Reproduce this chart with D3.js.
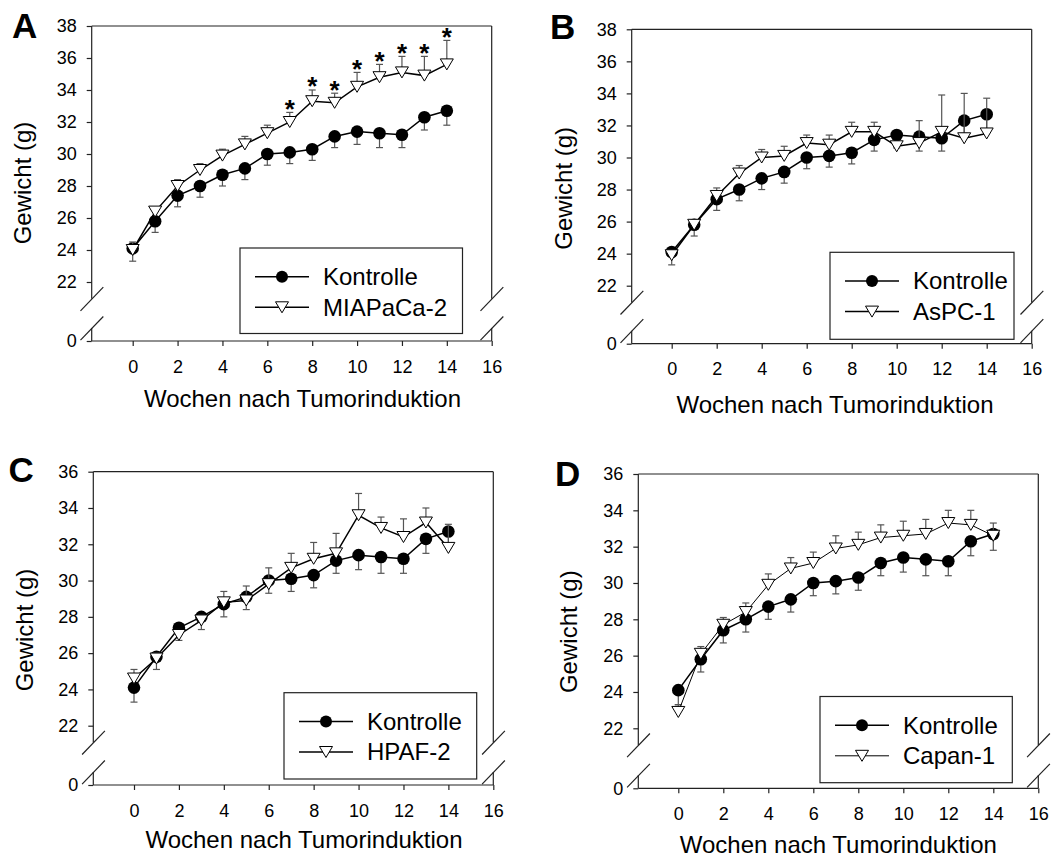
<!DOCTYPE html>
<html><head><meta charset="utf-8">
<script src="https://cdn.jsdelivr.net/npm/d3@7"></script>
<style>
body{margin:0;background:#fff}
svg{display:block}
text{font-family:"Liberation Sans",Arial,Helvetica,sans-serif;fill:#000}
</style>
</head><body>
<svg id="chart" width="1053" height="860"></svg>
<script>
// ---------- data ----------
const weeks = [0,1,2,3,4,5,6,7,8,9,10,11,12,13,14];
const xTicks = [0,2,4,6,8,10,12,14,16];
const yTicksAB = [0,22,24,26,28,30,32,34,36,38];
const yTicksCD = [0,22,24,26,28,30,32,34,36];
const controlName = "Kontrolle";
const kontrolle    = [24.1,25.8,27.4,28.0,28.7,29.1,30.0,30.1,30.3,31.1,31.4,31.3,31.2,32.3,32.7];
const kontrolleSem = [0.8,0.7,0.7,0.7,0.7,0.7,0.7,0.7,0.7,0.7,0.8,0.9,0.8,0.8,0.9];
const miapaca    = [24.0,26.4,28.0,29.0,29.9,30.6,31.3,32.0,33.3,33.2,34.2,34.8,35.1,34.9,35.6];
const miapacaSem = [0.5,0.3,0.4,0.4,0.4,0.5,0.5,0.6,0.7,0.6,0.9,0.8,1.0,1.2,1.5];
const aspc    = [23.9,25.8,27.6,29.0,30.0,30.1,30.9,30.8,31.6,31.6,30.7,30.9,31.6,31.2,31.5];
const aspcSem = [0.3,0.2,0.5,0.5,0.5,0.6,0.5,0.6,0.6,0.6,0.3,1.4,2.3,2.8,2.2];
const hpaf    = [24.6,25.7,27.0,27.8,28.8,28.9,29.8,30.7,31.2,31.5,33.6,32.9,32.4,33.2,31.8];
const hpafSem = [0.5,0.3,0.3,0.3,0.6,0.8,0.9,0.8,0.9,1.1,1.2,0.6,1.0,0.8,1.3];
const capan    = [22.9,26.1,27.7,28.4,29.9,30.8,31.1,31.9,32.1,32.5,32.6,32.7,33.3,33.2,32.6];
const capanSem = [0.4,0.4,0.4,0.5,0.6,0.6,0.6,0.7,0.7,0.7,0.8,0.8,0.7,0.8,0.7];
const sigWeeksA = [7,8,9,10,11,12,13,14];
const xTitle = "Wochen nach Tumorinduktion";
const yTitle = "Gewicht (g)";

// ---------- layout ----------
const panels = [
  {letter:"A", name:"MIAPaCa-2", vals:miapaca, sem:miapacaSem, sig:sigWeeksA, yMax:38, yTicks:yTicksAB,
   axisX:91.7, x0:132.7, x16:491.7, yTop:26, y22:282, y0:341, lw2:1.5,
   letterPos:[12,38.3], yTitlePos:[31,183], xTitlePos:[302.5,406.7], legend:[240,248,222.5,85.5]},
  {letter:"B", name:"AsPC-1", vals:aspc, sem:aspcSem, sig:[], yMax:38, yTicks:yTicksAB,
   axisX:631.7, x0:671.7, x16:1031.7, yTop:29.3, y22:285.7, y0:343.7, lw2:1.5,
   letterPos:[550,39.3], yTitlePos:[572,188.3], xTitlePos:[835,413], legend:[830,252.3,184,87]},
  {letter:"C", name:"HPAF-2", vals:hpaf, sem:hpafSem, sig:[], yMax:36, yTicks:yTicksCD,
   axisX:93.3, x0:134, x16:493.3, yTop:471.7, y22:725.7, y0:785, lw2:1.5,
   letterPos:[8.5,481.7], yTitlePos:[32.5,630], xTitlePos:[304,848.3], legend:[284,692.7,192.7,86.3]},
  {letter:"D", name:"Capan-1", vals:capan, sem:capanSem, sig:[], yMax:36, yTicks:yTicksCD,
   axisX:638.3, x0:678.3, x16:1038.3, yTop:474, y22:728.3, y0:788.3, lw2:1,
   letterPos:[555,485.7], yTitlePos:[577,631.7], xTitlePos:[838.3,852.5], legend:[820,696.5,192.3,86.2]}
];

const svg = d3.select("#chart");
const axisColor = "#222";
const errColor = "#555";

const triDown = { draw(ctx){ const w=6.5,h=5.5; ctx.moveTo(-w,-h); ctx.lineTo(w,-h); ctx.lineTo(0,h); ctx.closePath(); } };
const triPath = d3.symbol().type(triDown)();

function drawPanel(p){
  const g = svg.append("g");
  const x = d3.scaleLinear().domain([0,16]).range([p.x0,p.x16]);
  const y = d3.scaleLinear().domain([0,22,p.yMax]).range([p.y0,p.y22,p.yTop]);
  const upperEnd = p.y22 + 16.7, lowerStart = p.y0 - 13;

  // frame with breaks
  const fr = g.append("g").attr("stroke",axisColor).attr("stroke-width",1.2).attr("fill","none");
  const segs = [
    [p.axisX,p.yTop,p.axisX,upperEnd],[p.axisX,lowerStart,p.axisX,p.y0],
    [p.x16,p.yTop,p.x16,upperEnd],[p.x16,lowerStart,p.x16,p.y0],
    [p.axisX,p.yTop,p.x16,p.yTop],[p.axisX,p.y0,p.x16,p.y0]
  ];
  segs.forEach(s=>fr.append("line").attr("x1",s[0]).attr("y1",s[1]).attr("x2",s[2]).attr("y2",s[3]));
  [p.axisX,p.x16].forEach(cx=>{
    [upperEnd+0.5,lowerStart+0.5].forEach(cy=>{
      fr.append("line").attr("x1",cx-11.2).attr("y1",cy+11.6).attr("x2",cx+11.6).attr("y2",cy-12);
    });
  });

  // axes
  const ya = g.append("g").attr("transform",`translate(${p.axisX},0)`)
    .call(d3.axisLeft(y).tickValues(p.yTicks).tickSize(5).tickPadding(10).tickFormat(d3.format("d")));
  ya.select(".domain").remove();
  ya.selectAll("line").attr("stroke",axisColor).attr("stroke-width",1.2);
  ya.selectAll("text").style("font-size","18px").attr("fill","#000");
  ya.attr("font-family",null).attr("font-size",null);

  const xa = g.append("g").attr("transform",`translate(0,${p.y0})`)
    .call(d3.axisBottom(x).tickValues(xTicks).tickSize(5).tickPadding(14).tickFormat(d3.format("d")));
  xa.select(".domain").remove();
  xa.selectAll("line").attr("stroke",axisColor).attr("stroke-width",1.2);
  xa.selectAll("text").style("font-size","18px").attr("fill","#000");
  xa.attr("font-family",null).attr("font-size",null);

  // titles
  g.append("text").attr("x",p.xTitlePos[0]).attr("y",p.xTitlePos[1]).attr("text-anchor","middle")
    .style("font-size","24px").text(xTitle);
  g.append("text").attr("transform",`translate(${p.yTitlePos[0]},${p.yTitlePos[1]}) rotate(-90)`)
    .attr("text-anchor","middle").style("font-size","24px").text(yTitle);
  g.append("text").attr("x",p.letterPos[0]).attr("y",p.letterPos[1])
    .style("font-size","35px").style("font-weight","bold").text(p.letter);

  const line = d3.line().x((d,i)=>x(weeks[i])).y(d=>y(d));

  // control series
  const c = g.append("g");
  weeks.forEach((w,i)=>{
    const yv = y(kontrolle[i]), ye = y(kontrolle[i]-kontrolleSem[i]);
    c.append("line").attr("x1",x(w)).attr("x2",x(w)).attr("y1",yv).attr("y2",ye).attr("stroke",errColor).attr("stroke-width",1.2);
    c.append("line").attr("x1",x(w)-3.5).attr("x2",x(w)+3.5).attr("y1",ye).attr("y2",ye).attr("stroke",errColor).attr("stroke-width",1.2);
  });
  c.append("path").datum(kontrolle).attr("d",line).attr("fill","none").attr("stroke","#000").attr("stroke-width",1.5);
  c.selectAll("circle").data(kontrolle).join("circle")
    .attr("cx",(d,i)=>x(weeks[i])).attr("cy",d=>y(d)).attr("r",6.3).attr("fill","#000");

  // cell line series
  const s = g.append("g");
  weeks.forEach((w,i)=>{
    const yv = y(p.vals[i]), ye = y(p.vals[i]+p.sem[i]);
    s.append("line").attr("x1",x(w)).attr("x2",x(w)).attr("y1",yv).attr("y2",ye).attr("stroke",errColor).attr("stroke-width",1.2);
    s.append("line").attr("x1",x(w)-3.5).attr("x2",x(w)+3.5).attr("y1",ye).attr("y2",ye).attr("stroke",errColor).attr("stroke-width",1.2);
  });
  s.append("path").datum(p.vals).attr("d",line).attr("fill","none").attr("stroke","#000").attr("stroke-width",p.lw2);
  s.selectAll("path.tri").data(p.vals).join("path").attr("class","tri")
    .attr("d",triPath).attr("transform",(d,i)=>`translate(${x(weeks[i])},${y(d)})`)
    .attr("fill","#fff").attr("stroke","#000").attr("stroke-width",1);

  // significance stars
  p.sig.forEach(w=>{
    const i = weeks.indexOf(w);
    const top = y(p.vals[i]+p.sem[i]);
    g.append("text").attr("x",x(w)).attr("y",top-9.5+0.57*26).attr("text-anchor","middle")
      .style("font-size","26px").style("font-weight","bold").text("*");
  });

  // legend
  const [lx,ly,lw,lh] = p.legend;
  const lg = g.append("g");
  lg.append("rect").attr("x",lx).attr("y",ly).attr("width",lw).attr("height",lh)
    .attr("fill","#fff").attr("stroke",axisColor).attr("stroke-width",1.2);
  const rows = [
    {name:controlName, type:"circle", y:ly+28.7, lw:1.5},
    {name:p.name, type:"tri", y:ly+59.3, lw:p.lw2}
  ];
  rows.forEach(r=>{
    lg.append("line").attr("x1",lx+15).attr("x2",lx+69).attr("y1",r.y).attr("y2",r.y).attr("stroke","#000").attr("stroke-width",r.lw);
    if(r.type==="circle") lg.append("circle").attr("cx",lx+42).attr("cy",r.y).attr("r",6).attr("fill","#000");
    else lg.append("path").attr("d",triPath).attr("transform",`translate(${lx+42},${r.y})`).attr("fill","#fff").attr("stroke","#000").attr("stroke-width",1);
    lg.append("text").attr("x",lx+83).attr("y",r.y).attr("dy","0.35em").style("font-size","24px").text(r.name);
  });
}

panels.forEach(drawPanel);
</script>
</body></html>
